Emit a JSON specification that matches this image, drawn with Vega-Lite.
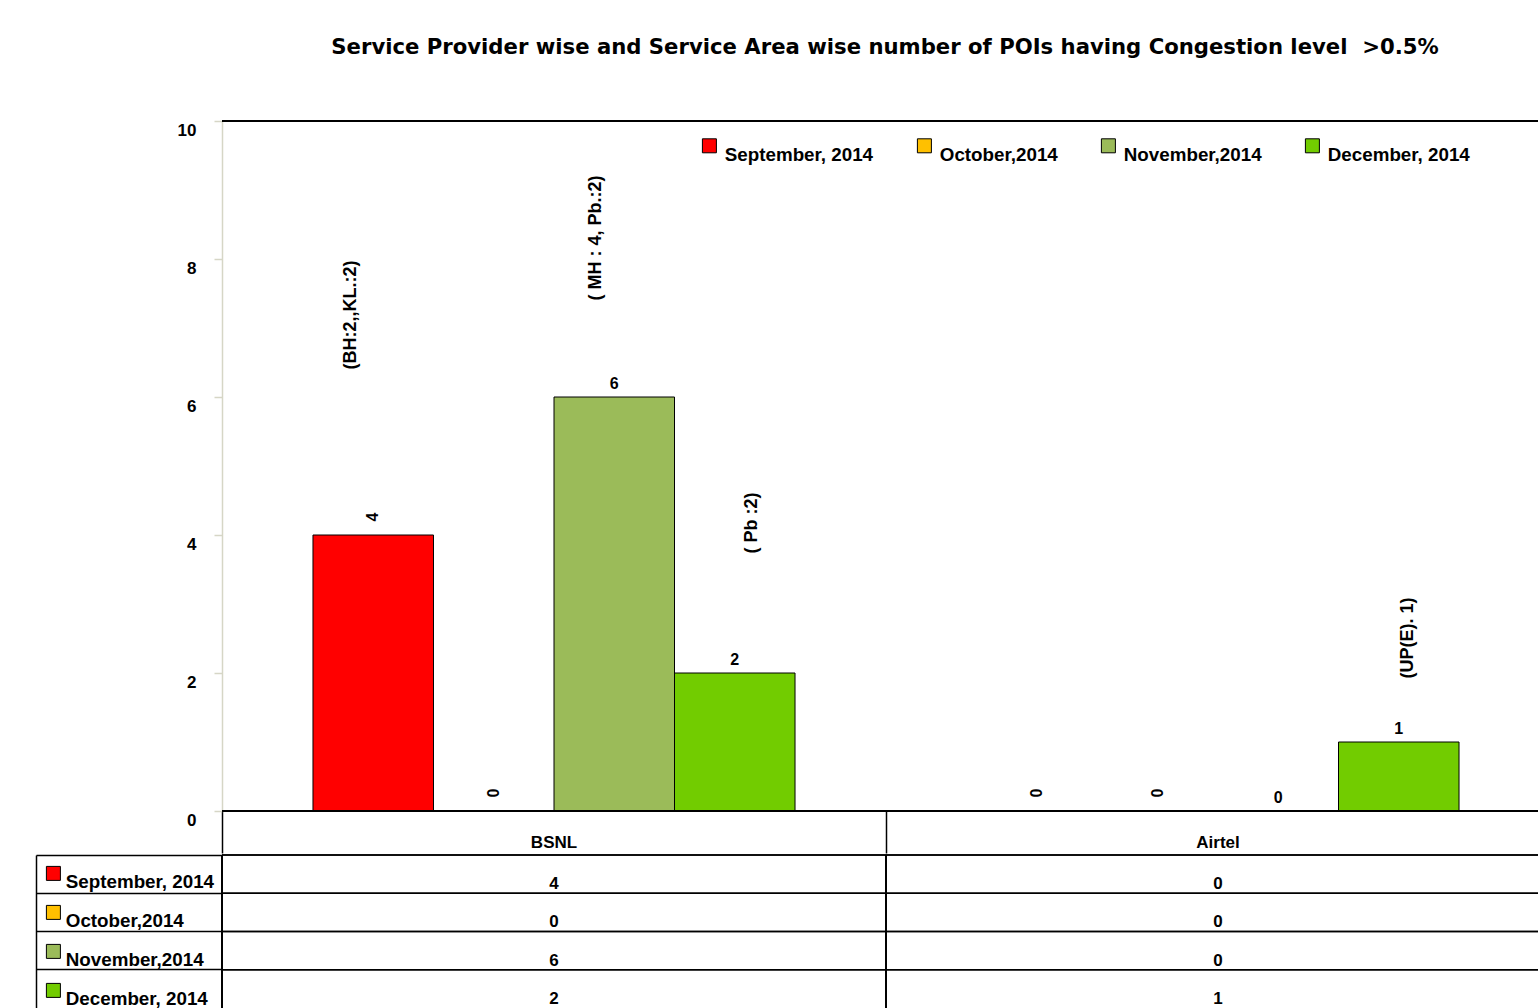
{
  "$schema": "https://vega.github.io/schema/vega-lite/v6.json",
  "padding": {"left": 35, "top": 37, "right": 0, "bottom": 0},
  "background": "white",
  "spacing": 0,
  "config": {
    "font": "Liberation Sans",
    "view": {"stroke": null},
    "axis": {"labelFont": "Liberation Sans", "labelFontWeight": "bold", "labelColor": "black"},
    "legend": {"labelFont": "Liberation Sans", "padding": 0}
  },
  "datasets": {
    "pois": [
      {"provider": "BSNL", "month": "September, 2014", "count": 4, "note": "(BH:2,,KL.:2)"},
      {"provider": "BSNL", "month": "October,2014", "count": 0, "note": ""},
      {"provider": "BSNL", "month": "November,2014", "count": 6, "note": "( MH : 4, Pb.:2)"},
      {"provider": "BSNL", "month": "December, 2014", "count": 2, "note": "( Pb :2)"},
      {"provider": "Airtel", "month": "September, 2014", "count": 0, "note": ""},
      {"provider": "Airtel", "month": "October,2014", "count": 0, "note": ""},
      {"provider": "Airtel", "month": "November,2014", "count": 0, "note": ""},
      {"provider": "Airtel", "month": "December, 2014", "count": 1, "note": "(UP(E). 1)"}
    ]
  },
  "resolve": {"scale": {"color": "independent", "x": "independent", "y": "independent"}, "legend": {"color": "independent"}},
  "vconcat": [
    {
      "width": 1316,
      "height": 690,
      "title": {"text": "Service Provider wise and Service Area wise number of POIs having Congestion level \u00a0>0.5%", "fontSize": 21.2, "fontWeight": "bold", "font": "DejaVu Sans", "color": "black", "anchor": "middle", "frame": "group", "baseline": "alphabetic", "offset": 45, "dx": 5},
      "data": {"name": "pois"},
      "encoding": {
        "y": {"field": "count", "type": "quantitative", "scale": {"domain": [0, 10]},
          "axis": {"values": [0, 2, 4, 6, 8, 10], "domainColor": "#d6d6c6", "domainWidth": 1.5, "tickColor": "#d6d6c6", "tickSize": 8, "tickWidth": 1.5, "labelFontSize": 17, "labelFontWeight": "bold", "labelBaseline": "top", "labelOffset": 1, "labelPadding": 18, "grid": false, "title": null}}
      },
      "layer": [
        {
          "mark": {"type": "bar", "stroke": "black", "strokeWidth": 1},
          "encoding": {
            "x": {"field": "provider", "type": "nominal", "sort": ["BSNL", "Airtel"], "scale": {"range": [0, 1328], "paddingInner": 0, "paddingOuter": 0},
              "axis": {"orient": "bottom", "domain": false, "ticks": true, "tickSize": 42, "tickColor": "black", "tickWidth": 1.5, "bandPosition": 0, "tickExtra": false, "labelFontSize": 17, "labelFontWeight": "bold", "labelBaseline": "top", "labelPadding": -19, "labelAngle": 0, "title": null, "grid": false}},
            "xOffset": {"field": "month", "type": "nominal", "sort": ["September, 2014", "October,2014", "November,2014", "December, 2014"], "scale": {"paddingInner": 0, "paddingOuter": 0.755}},
            "color": {"field": "month", "type": "nominal",
              "scale": {"domain": ["September, 2014", "October,2014", "November,2014", "December, 2014"], "range": ["#FF0000", "#FFC000", "#9BBB59", "#72CC00"]},
              "legend": {"orient": "none", "legendX": 478, "legendY": 15, "direction": "horizontal", "title": null, "symbolType": "square", "symbolSize": 196, "symbolStrokeColor": "black", "symbolStrokeWidth": 1, "labelFontWeight": "bold", "labelFontSize": 18.8, "labelColor": "black", "labelBaseline": "top", "labelOffset": 6, "columnPadding": 41, "labelLimit": 400}}
          }
        },
        {
          "mark": {"type": "rule", "color": "black", "strokeWidth": 1.2},
          "encoding": {"y": {"datum": 10}}
        },
        {
          "mark": {"type": "rule", "color": "black", "strokeWidth": 2},
          "encoding": {"y": {"datum": 0}}
        },
        {
          "transform": [{"filter": "datum.month == 'November,2014' || datum.month == 'December, 2014'"}],
          "mark": {"type": "text", "color": "black", "fontWeight": "bold", "fontSize": 16, "baseline": "alphabetic", "dy": -8},
          "encoding": {
            "x": {"field": "provider", "type": "nominal", "sort": ["BSNL", "Airtel"]},
            "xOffset": {"field": "month", "type": "nominal", "sort": ["September, 2014", "October,2014", "November,2014", "December, 2014"]},
            "text": {"field": "count", "type": "quantitative"}
          }
        },
        {
          "transform": [{"filter": "datum.month == 'September, 2014' || datum.month == 'October,2014'"}],
          "mark": {"type": "text", "color": "black", "fontWeight": "bold", "fontSize": 16, "baseline": "middle", "align": "center", "angle": 270, "dx": 18, "dy": 0},
          "encoding": {
            "x": {"field": "provider", "type": "nominal", "sort": ["BSNL", "Airtel"]},
            "xOffset": {"field": "month", "type": "nominal", "sort": ["September, 2014", "October,2014", "November,2014", "December, 2014"]},
            "text": {"field": "count", "type": "quantitative"}
          }
        },
        {
          "transform": [{"filter": "datum.note == '(BH:2,,KL.:2)'"}],
          "mark": {"type": "text", "color": "black", "fontWeight": "bold", "fontSize": 18, "baseline": "middle", "align": "center", "angle": 270, "dx": 220, "dy": -22},
          "encoding": {
            "x": {"field": "provider", "type": "nominal", "sort": ["BSNL", "Airtel"]},
            "xOffset": {"field": "month", "type": "nominal", "sort": ["September, 2014", "October,2014", "November,2014", "December, 2014"]},
            "text": {"field": "note"}
          }
        },
        {
          "transform": [{"filter": "datum.note == '( MH : 4, Pb.:2)'"}],
          "mark": {"type": "text", "color": "black", "fontWeight": "bold", "fontSize": 18, "baseline": "middle", "align": "center", "angle": 270, "dx": 159, "dy": -18},
          "encoding": {
            "x": {"field": "provider", "type": "nominal", "sort": ["BSNL", "Airtel"]},
            "xOffset": {"field": "month", "type": "nominal", "sort": ["September, 2014", "October,2014", "November,2014", "December, 2014"]},
            "text": {"field": "note"}
          }
        },
        {
          "transform": [{"filter": "datum.note == '( Pb :2)'"}],
          "mark": {"type": "text", "color": "black", "fontWeight": "bold", "fontSize": 18, "baseline": "middle", "align": "center", "angle": 270, "dx": 150, "dy": 17},
          "encoding": {
            "x": {"field": "provider", "type": "nominal", "sort": ["BSNL", "Airtel"]},
            "xOffset": {"field": "month", "type": "nominal", "sort": ["September, 2014", "October,2014", "November,2014", "December, 2014"]},
            "text": {"field": "note"}
          }
        },
        {
          "transform": [{"filter": "datum.note == '(UP(E). 1)'"}],
          "mark": {"type": "text", "color": "black", "fontWeight": "bold", "fontSize": 18, "baseline": "middle", "align": "center", "angle": 270, "dx": 104, "dy": 9},
          "encoding": {
            "x": {"field": "provider", "type": "nominal", "sort": ["BSNL", "Airtel"]},
            "xOffset": {"field": "month", "type": "nominal", "sort": ["September, 2014", "October,2014", "November,2014", "December, 2014"]},
            "text": {"field": "note"}
          }
        }
      ]
    },
    {
      "width": 1316,
      "height": 153,
      "data": {"name": "pois"},
      "layer": [
        {
          "mark": {"type": "rule", "color": "black", "strokeWidth": 1.5},
          "encoding": {
            "y": {"field": "month", "type": "nominal", "bandPosition": 0, "sort": ["September, 2014", "October,2014", "November,2014", "December, 2014"], "scale": {"paddingInner": 0, "paddingOuter": 0},
              "axis": {"orient": "left", "offset": 186, "domain": true, "domainColor": "black", "domainWidth": 1.5, "ticks": true, "tickSize": -186, "tickColor": "black", "tickWidth": 1.5, "bandPosition": 0, "tickExtra": false, "grid": false, "labels": false, "title": null}}
          }
        },
        {
          "mark": {"type": "rule", "color": "black", "strokeWidth": 1.5},
          "encoding": {
            "x": {"field": "provider", "type": "nominal", "bandPosition": 0, "sort": ["BSNL", "Airtel"], "scale": {"range": [0, 1328], "paddingInner": 0, "paddingOuter": 0}, "axis": null}
          }
        },
        {
          "mark": {"type": "text", "color": "black", "fontWeight": "bold", "fontSize": 17, "baseline": "middle", "dy": 10},
          "encoding": {
            "x": {"field": "provider", "type": "nominal", "sort": ["BSNL", "Airtel"]},
            "y": {"field": "month", "type": "nominal", "sort": ["September, 2014", "October,2014", "November,2014", "December, 2014"]},
            "text": {"field": "count", "type": "quantitative"}
          }
        },
        {
          "mark": {"type": "square", "opacity": 0},
          "encoding": {
            "x": {"field": "provider", "type": "nominal", "sort": ["BSNL", "Airtel"]},
            "y": {"field": "month", "type": "nominal", "sort": ["September, 2014", "October,2014", "November,2014", "December, 2014"]},
            "color": {"field": "month", "type": "nominal",
              "scale": {"domain": ["September, 2014", "October,2014", "November,2014", "December, 2014"], "range": ["#FF0000", "#FFC000", "#9BBB59", "#72CC00"]},
              "legend": {"orient": "none", "legendX": -178, "legendY": 9, "direction": "vertical", "title": null, "symbolType": "square", "symbolSize": 196, "symbolStrokeColor": "black", "symbolStrokeWidth": 1, "symbolOpacity": 1, "labelFontWeight": "bold", "labelFontSize": 18.8, "labelColor": "black", "labelBaseline": "top", "labelOffset": 3, "rowPadding": 10, "labelLimit": 400}}
          }
        }
      ]
    }
  ]
}
